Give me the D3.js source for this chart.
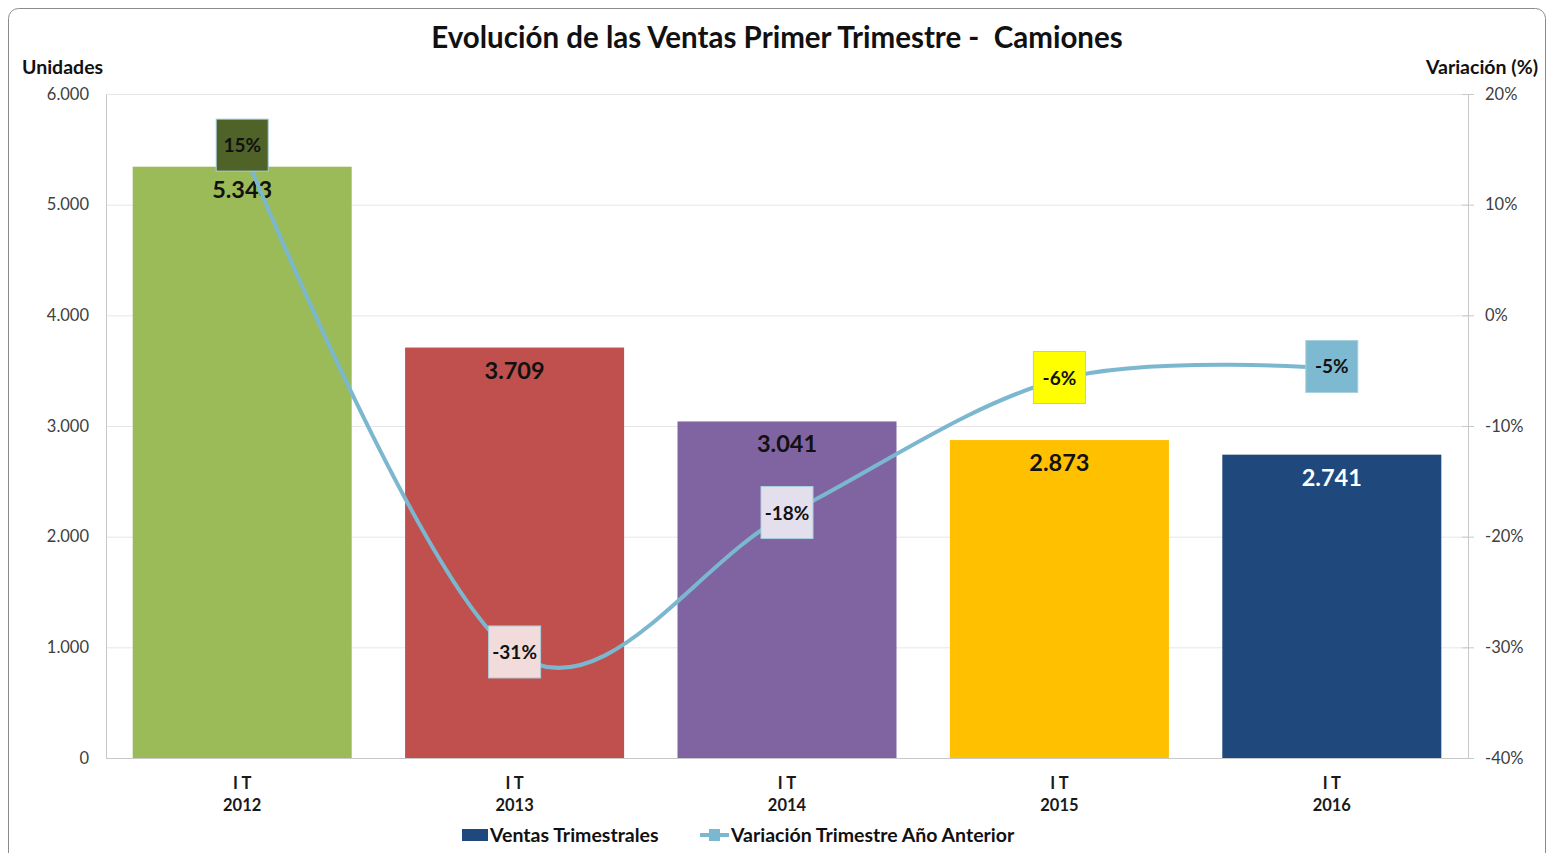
<!DOCTYPE html>
<html>
<head>
<meta charset="utf-8">
<title>Evolución de las Ventas Primer Trimestre - Camiones</title>
<style>
  html, body { margin: 0; padding: 0; background: #fff; }
  svg { display: block; }
  text { font-family: Lato, "Open Sans", sans-serif; }
</style>
</head>
<body>
<svg id="chart"></svg>
<script src="https://d3js.org/d3.v7.min.js"></script>
<script>
  // data
  const periods = ["I T", "I T", "I T", "I T", "I T"];
  const years = ["2012", "2013", "2014", "2015", "2016"];
  const ventas = [5343, 3709, 3041, 2873, 2741];
  const variacion = [0.152, -0.306, -0.180, -0.058, -0.048];
  const barColors = ["#9bbb59", "#c0504d", "#8064a2", "#ffc000", "#1f497d"];
  const boxColors = ["#4f6228", "#f2dcdb", "#e4dfec", "#ffff00", "#7db9d0"];
  const leftTicks = [0, 1000, 2000, 3000, 4000, 5000, 6000];
  const rightTicks = [-0.4, -0.3, -0.2, -0.1, 0, 0.1, 0.2];

  const W = 1547, H = 853;
  const svg = d3.select("#chart").attr("width", W).attr("height", H);

  const es = d3.formatLocale({decimal: ",", thousands: ".", grouping: [3], currency: ["", "€"]});
  const fmtNum = es.format(",d");
  const fmtPct = v => Math.round(v * 100) + "%";

  // frame
  svg.append("rect")
    .attr("x", 8.5).attr("y", 8.5)
    .attr("width", W - 10).attr("height", H + 20)
    .attr("rx", 10)
    .attr("fill", "#fff").attr("stroke", "#8c8c8c").attr("stroke-width", 1);

  const pLeft = 106, pRight = 1468, pTop = 94, pBottom = 758;

  const x = d3.scaleBand()
    .domain(years)
    .range([pLeft, pRight])
    .paddingInner(0.196)
    .paddingOuter(0.098);
  const yL = d3.scaleLinear().domain([0, 6000]).range([pBottom, pTop]);
  const yR = d3.scaleLinear().domain([-0.4, 0.2]).range([pBottom, pTop]);

  // gridlines
  svg.append("g").selectAll("line")
    .data(leftTicks.slice(1))
    .join("line")
    .attr("x1", pLeft).attr("x2", pRight)
    .attr("y1", d => yL(d) + 0.5).attr("y2", d => yL(d) + 0.5)
    .attr("stroke", "#e6e6e6").attr("stroke-width", 1);

  // left axis
  const gL = svg.append("g").attr("transform", `translate(${pLeft},0)`)
    .call(d3.axisLeft(yL).tickValues(leftTicks).tickFormat(fmtNum).tickSize(0).tickPadding(17));
  gL.select(".domain").attr("stroke", "#c8c8c8");
  gL.selectAll("text").attr("font-size", 16.5).attr("fill", "#404040")
    .style("font-family", "Lato, sans-serif");

  // right axis
  const gR = svg.append("g").attr("transform", `translate(${pRight},0)`)
    .call(d3.axisRight(yR).tickValues(rightTicks).tickFormat(fmtPct).tickSize(6).tickPadding(11));
  gR.select(".domain").attr("stroke", "#c8c8c8");
  gR.selectAll(".tick line").attr("x1", -6).attr("stroke", "#c8c8c8");
  gR.selectAll("text").attr("font-size", 16.5).attr("fill", "#404040")
    .style("font-family", "Lato, sans-serif");

  // bottom axis line
  svg.append("line")
    .attr("x1", pLeft).attr("x2", pRight)
    .attr("y1", pBottom + 0.5).attr("y2", pBottom + 0.5)
    .attr("stroke", "#c8c8c8");

  // category labels
  const xl = svg.append("g");
  xl.selectAll(".p").data(years).join("text")
    .attr("class", "p")
    .attr("x", d => x(d) + x.bandwidth() / 2).attr("y", 789)
    .attr("text-anchor", "middle").attr("font-size", 16.5).attr("font-weight", "bold")
    .attr("fill", "#1a1a1a")
    .text((d, i) => periods[i]);
  xl.selectAll(".y").data(years).join("text")
    .attr("class", "y")
    .attr("x", d => x(d) + x.bandwidth() / 2).attr("y", 811)
    .attr("text-anchor", "middle").attr("font-size", 16.5).attr("font-weight", "bold")
    .attr("fill", "#1a1a1a")
    .text(d => d);

  // bars
  svg.append("g").selectAll("rect")
    .data(ventas)
    .join("rect")
    .attr("x", (d, i) => x(years[i]))
    .attr("y", d => yL(d))
    .attr("width", x.bandwidth())
    .attr("height", d => pBottom - yL(d))
    .attr("fill", (d, i) => barColors[i]);

  // bar value labels
  svg.append("g").selectAll("text")
    .data(ventas)
    .join("text")
    .attr("x", (d, i) => x(years[i]) + x.bandwidth() / 2)
    .attr("y", d => yL(d) + 31)
    .attr("text-anchor", "middle")
    .attr("font-size", 23.5).attr("font-weight", "bold")
    .attr("fill", (d, i) => i === 4 ? "#fff" : "#111")
    .text(d => fmtNum(d));

  // variation line
  const line = d3.line()
    .x((d, i) => x(years[i]) + x.bandwidth() / 2)
    .y(d => yR(d))
    .curve(d3.curveCardinal.tension(0));
  svg.append("path")
    .datum(variacion)
    .attr("d", line)
    .attr("fill", "none")
    .attr("stroke", "#7bb8d0")
    .attr("stroke-width", 4);

  // variation labels
  const lab = svg.append("g").selectAll("g")
    .data(variacion)
    .join("g")
    .attr("transform", (d, i) => `translate(${x(years[i]) + x.bandwidth() / 2},${yR(d) - 2})`);
  lab.append("rect")
    .attr("x", -26).attr("y", -26).attr("width", 52).attr("height", 52)
    .attr("fill", (d, i) => boxColors[i])
    .attr("stroke", "#a9cfdc").attr("stroke-width", 1);
  lab.append("text")
    .attr("y", 7)
    .attr("text-anchor", "middle")
    .attr("font-size", 19).attr("font-weight", "bold")
    .attr("fill", "#111")
    .text(d => fmtPct(d));

  // title
  svg.append("text")
    .attr("x", 777).attr("y", 48)
    .attr("text-anchor", "middle")
    .attr("font-size", 29.5).attr("font-weight", "bold")
    .attr("fill", "#111")
    .style("white-space", "pre")
    .text("Evolución de las Ventas Primer Trimestre -  Camiones");

  // axis titles
  svg.append("text")
    .attr("x", 22).attr("y", 74)
    .attr("font-size", 19.5).attr("font-weight", "bold").attr("fill", "#111")
    .text("Unidades");
  svg.append("text")
    .attr("x", 1538).attr("y", 74)
    .attr("text-anchor", "end")
    .attr("font-size", 19.5).attr("font-weight", "bold").attr("fill", "#111")
    .text("Variación (%)");

  // legend
  const lg = svg.append("g");
  lg.append("rect")
    .attr("x", 462).attr("y", 829).attr("width", 26).attr("height", 12)
    .attr("fill", "#1f497d");
  lg.append("text")
    .attr("x", 490).attr("y", 842)
    .attr("font-size", 19.5).attr("font-weight", "bold").attr("fill", "#111")
    .text("Ventas Trimestrales");
  lg.append("line")
    .attr("x1", 700).attr("x2", 729).attr("y1", 835).attr("y2", 835)
    .attr("stroke", "#7bb8d0").attr("stroke-width", 4);
  lg.append("rect")
    .attr("x", 709).attr("y", 829).attr("width", 11).attr("height", 12)
    .attr("fill", "#7bb8d0");
  lg.append("text")
    .attr("x", 731).attr("y", 842)
    .attr("font-size", 19.5).attr("font-weight", "bold").attr("fill", "#111")
    .text("Variación Trimestre Año Anterior");
</script>
</body>
</html>
